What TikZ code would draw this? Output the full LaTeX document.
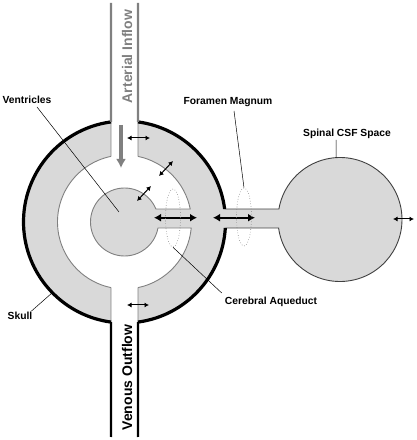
\documentclass[tikz,border=0pt]{standalone}
\usepackage{fontspec}
\setmainfont{Liberation Sans}
\usepackage{xcolor}
\usetikzlibrary{calc,arrows.meta,shapes.geometric}
\definecolor{csfgrey}{gray}{0.85}
\definecolor{wallgrey}{gray}{0.5}
\definecolor{cordgrey}{gray}{0.25}

\begin{document}
\begin{tikzpicture}[x=1pt, y=1pt,
        thinwall/.style={draw=wallgrey, line width=0.9pt},
        skullwall/.style={draw=black, line width=3.2pt},
        artwall/.style={draw=wallgrey, line width=2.2pt},
        venwall/.style={draw=black, line width=2.2pt},
        smallarrow/.style={{Latex[length=4.5pt,width=5pt]}-{Latex[length=4.5pt,width=5pt]}, line width=1pt},
        bigarrow/.style={{Latex[length=7pt,width=8pt]}-{Latex[length=7pt,width=8pt]}, line width=2.2pt},
        flowarrow/.style={-{Latex[length=9pt,width=10pt]}, draw=wallgrey, line width=3.2pt},
        ring/.style={ellipse, draw=wallgrey, dotted, line width=0.6pt, minimum width=15pt, minimum height=58pt, inner sep=0pt},
        lbl/.style={font=\bfseries\fontsize{10.3}{12}\selectfont, inner sep=0pt},
        pipetext/.style={font=\bfseries\fontsize{14}{16}\selectfont, inner sep=0pt, rotate=90},
        leader/.style={draw=black, line width=0.5pt}]
        \useasboundingbox (0, 0) rectangle (417, 440);

        \coordinate (C) at (124.5, 218);
        \coordinate (S) at (340, 220.5);

        % CSF spaces
        \fill [csfgrey] (C) circle (101);
        \fill [csfgrey] (S) circle (62);
        \fill [csfgrey] (220, 212) rectangle (282, 231);
        % brain and vessels
        \fill [white] (C) circle (67);
        \fill [white] (111, 110) rectangle (138, 330);
        % ventricles
        \fill [csfgrey] (C) circle (34);
        \fill [csfgrey] (150, 212) rectangle (196, 231);

        % inner walls
        \draw [thinwall] ($(C)+(101.63:67)$) arc [start angle=101.63, end angle=258.37, radius=67];
        \draw [thinwall] ($(C)+(78.37:67)$) arc [start angle=78.37, end angle=11.19, radius=67]
                -- ($(C)+(22.48:34)$) arc [start angle=22.48, end angle=349.84, radius=34]
                -- ($(C)+(-5.14:67)$) arc [start angle=-5.14, end angle=-78.37, radius=67];
        \draw [thinwall] ($(C)+(101.63:67)$) -- ($(C)+(97.68:101)$);
        \draw [thinwall] ($(C)+(78.37:67)$) -- ($(C)+(82.32:101)$);
        \draw [thinwall] ($(C)+(258.37:67)$) -- ($(C)+(262.32:101)$);
        \draw [thinwall] ($(C)+(281.63:67)$) -- ($(C)+(277.68:101)$);

        % spinal space
        \draw [draw=cordgrey, line width=0.9pt] ($(C)+(-3.41:101)$) -- ($(S)+(187.88:62)$)
                arc [start angle=187.88, end angle=530.25, radius=62] -- ($(C)+(7.40:101)$);

        % skull
        \draw [skullwall] ($(C)+(97.68:101)$) arc [start angle=97.68, end angle=262.32, radius=101];
        \draw [skullwall] ($(C)+(82.32:101)$) arc [start angle=82.32, end angle=7.40, radius=101];
        \draw [skullwall] ($(C)+(-3.41:101)$) arc [start angle=-3.41, end angle=-82.32, radius=101];

        % vessels
        \draw [artwall] ($(C)+(97.68:101)$) -- (111, 437);
        \draw [artwall] ($(C)+(82.32:101)$) -- (138, 437);
        \draw [venwall] ($(C)+(262.32:101)$) -- (111, 3);
        \draw [venwall] ($(C)+(277.68:101)$) -- (138, 3);
        \node [pipetext, text=wallgrey] (arterial) at (127, 383.5) {Arterial Inflow};
        \node [pipetext] (venous) at (127, 62.5) {Venous Outflow};

        % flows
        \draw [flowarrow] (121, 315) -- (121, 272);
        \draw [smallarrow] (127, 302) -- (150, 302);
        \draw [smallarrow] (159, 264) -- (173, 279);
        \draw [smallarrow] (137, 239) -- (151, 254);
        \draw [smallarrow] (127, 135) -- (149, 135);
        \draw [smallarrow] (393, 221) -- (414, 221);
        \draw [bigarrow] (154, 222.3) -- (197, 222.3);
        \draw [bigarrow] (213, 222.3) -- (255, 222.3);

        \node [ring] (aq) at (173, 222) {};
        \node [ring] (fm) at (244, 223) {};

        % labels
        \node [lbl] (ventricles) at (27, 340) {Ventricles};
        \node [lbl] (foramen) at (228, 338) {Foramen Magnum};
        \node [lbl] (spinal) at (347, 306) {Spinal CSF Space};
        \node [lbl] (aqueduct) at (271, 138) {Cerebral Aqueduct};
        \node [lbl] (skull) at (20, 124) {Skull};

        \coordinate (vtip) at (119, 228);
        \coordinate (sptop) at ($(S)+(93.7:62)$);
        \coordinate (sktip) at ($(C)+(224.4:101)$);
        \draw [leader] ([xshift=10pt, yshift=-3pt]ventricles.south) -- (vtip);
        \draw [leader] ([xshift=6pt, yshift=-4pt]foramen.south) -- (fm.north);
        \draw [leader] ([xshift=-11pt, yshift=-1pt]spinal.south) -- (sptop);
        \draw [leader] (aq.south) -- ([shift={(-3pt,4pt)}]aqueduct.north west);
        \draw [leader] ([xshift=-1pt, yshift=1pt]skull.north east) -- (sktip);
      \end{tikzpicture}
\end{document}
